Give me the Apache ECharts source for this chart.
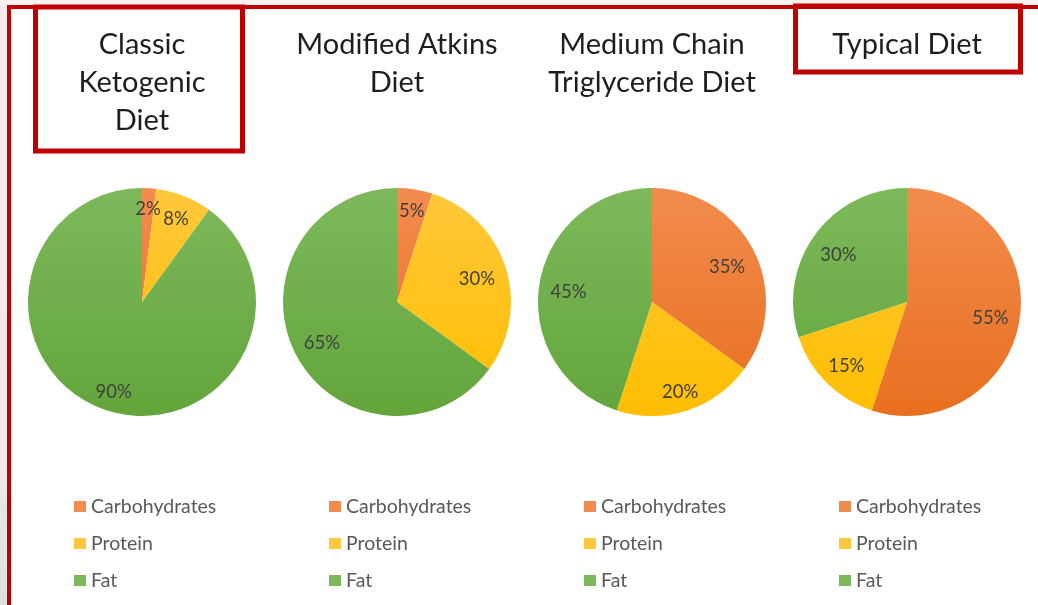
<!DOCTYPE html>
<html>
<head>
<meta charset="utf-8">
<script src="https://cdn.jsdelivr.net/npm/echarts@6/dist/echarts.min.js"></script>
<style>
  html, body { margin: 0; padding: 0; background: #ffffff; }
  #chart { width: 1038px; height: 605px; }
</style>
</head>
<body>
<div id="chart"></div>
<script>
// ---- data ----
const categories = ['Carbohydrates', 'Protein', 'Fat'];
const dietTitles = ['Classic\nKetogenic\nDiet', 'Modified Atkins\nDiet', 'Medium Chain\nTriglyceride Diet', 'Typical Diet'];
const classicKetogenic = [2, 8, 90];
const modifiedAtkins = [5, 30, 65];
const mediumChainTriglyceride = [35, 20, 45];
const typicalDiet = [55, 15, 30];
const dietValues = [classicKetogenic, modifiedAtkins, mediumChainTriglyceride, typicalDiet];

// ---- layout / style ----
const FONT = 'Lato';
const centersX = [142, 397, 652, 907];
const centerY = 302;
const R = 114;
const LABEL_OUTER = 103.5;   // labels sit "inside end", their box reaching about this radius
const LABEL_SHIFT_Y = 3;
const colorPairs = [
  ['#f28c4e', '#e86f1f'],   // Carbohydrates
  ['#ffc83a', '#ffbe00'],   // Protein
  ['#7db95b', '#63a53b']    // Fat
];

function grad(i, cx) {
  return {
    type: 'linear', global: true,
    x: cx, y: centerY - R, x2: cx, y2: centerY + R,
    colorStops: [{ offset: 0, color: colorPairs[i][0] }, { offset: 1, color: colorPairs[i][1] }]
  };
}

function insideEndLayout(cx) {
  return function (params) {
    const r = params.labelRect;
    const lx = r.x + r.width / 2, ly = r.y + r.height / 2;
    const vx = lx - cx, vy = ly - centerY;
    const d0 = Math.sqrt(vx * vx + vy * vy) || 1;
    const ux = vx / d0, uy = vy / d0;
    const support = Math.abs(ux) * r.width / 2 + Math.abs(uy) * r.height * 0.36;
    const d = LABEL_OUTER - support;
    return { dx: (d - d0) * ux, dy: (d - d0) * uy + LABEL_SHIFT_Y };
  };
}

const series = [];
const titles = [];
const legends = [];
const legendLefts = [74, 329, 584, 839];

dietValues.forEach((vals, k) => {
  const cx = centersX[k];
  series.push({
    type: 'pie',
    center: [cx, centerY],
    radius: [0, R],
    startAngle: 90,
    clockwise: true,
    silent: true,
    label: { show: false },
    labelLine: { show: false },
    itemStyle: { borderWidth: 0 },
    data: categories.map((c, i) => ({ name: c, value: vals[i], itemStyle: { color: grad(i, cx) } }))
  });
  // transparent ring carrying the value labels
  series.push({
    type: 'pie',
    center: [cx, centerY],
    radius: [R * 0.54, R],
    startAngle: 90,
    clockwise: true,
    silent: true,
    legendHoverLink: false,
    itemStyle: { color: 'rgba(0,0,0,0)', borderWidth: 0 },
    emphasis: { disabled: true },
    label: {
      show: true, position: 'inside', formatter: '{c}%',
      fontFamily: FONT, fontSize: 18.5, color: '#404040'
    },
    labelLine: { show: false },
    labelLayout: insideEndLayout(cx),
    data: categories.map((c, i) => ({ name: c, value: vals[i] }))
  });
  titles.push({
    text: dietTitles[k],
    left: cx,
    top: 26,
    padding: 0,
    textAlign: 'center',
    textStyle: { fontFamily: FONT, fontSize: 29, fontWeight: 'normal', color: '#1e1e1e', lineHeight: 38 }
  });
  legends.push({
    orient: 'vertical',
    left: legendLefts[k],
    top: 496,
    padding: 0,
    itemWidth: 12,
    itemHeight: 11,
    itemGap: 16,
    icon: 'rect',
    selectedMode: false,
    data: categories,
    textStyle: { fontFamily: FONT, fontSize: 19.5, color: '#595959', lineHeight: 21 }
  });
});

const RED = '#c00000';
const chart = echarts.init(document.getElementById('chart'), null, { renderer: 'canvas' });
chart.setOption({
  backgroundColor: '#ffffff',
  animation: false,
  title: titles,
  legend: legends,
  series: series,
  graphic: [
    { type: 'rect', shape: { x: 0, y: 0, width: 7, height: 605 }, style: {
      fill: { type: 'linear', x: 0, y: 0, x2: 0, y2: 1, colorStops: [
        { offset: 0, color: '#f6eaea' }, { offset: 0.78, color: '#f4e9e9' },
        { offset: 0.84, color: '#e3e7e3' }, { offset: 1, color: '#dde3dc' }] } }, silent: true },
    { type: 'rect', shape: { x: 0, y: 0, width: 1038, height: 5 }, style: { fill: '#f9f0f0' }, silent: true },
    { type: 'line', shape: { x1: 7, y1: 7, x2: 1038, y2: 7 }, style: { stroke: RED, lineWidth: 4 }, silent: true },
    { type: 'line', shape: { x1: 9, y1: 5, x2: 9, y2: 605 }, style: { stroke: RED, lineWidth: 4 }, silent: true },
    { type: 'rect', shape: { x: 35.5, y: 7, width: 207, height: 144 }, style: { fill: null, stroke: RED, lineWidth: 5 }, silent: true },
    { type: 'rect', shape: { x: 795.5, y: 6, width: 225, height: 66 }, style: { fill: null, stroke: RED, lineWidth: 5 }, silent: true }
  ]
});
</script>
</body>
</html>
